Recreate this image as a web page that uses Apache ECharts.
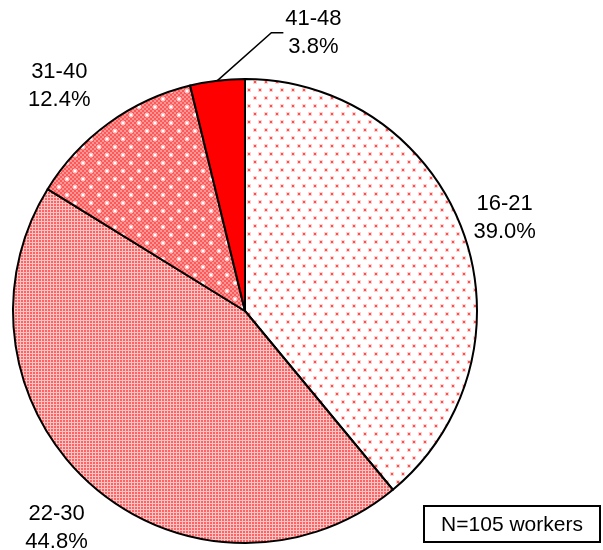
<!DOCTYPE html>
<html>
<head>
<meta charset="utf-8">
<title>Workers by age group</title>
<script src="https://cdn.jsdelivr.net/npm/echarts@6/dist/echarts.min.js"></script>
<style>
  html, body { margin: 0; padding: 0; background: #ffffff; }
  #chart { width: 603px; height: 550px; }
</style>
</head>
<body>
<div id="chart"></div>
<script>
// Age groups and their share of the surveyed workers (percent)
const categories = ['16-21', '22-30', '31-40', '41-48'];
const shares = [39.0, 44.8, 12.4, 3.8];
const noteText = 'N=105 workers';

const FONT = '"Liberation Sans", Arial, sans-serif';

// ---- fill patterns -------------------------------------------------------
function tile(w, h, draw) {
  const c = document.createElement('canvas');
  c.width = w; c.height = h;
  const g = c.getContext('2d');
  draw(g);
  return c;
}
function dot(g, x, y, core, halo) {
  g.fillStyle = halo;
  g.fillRect(x - 1, y - 1, 4, 4);
  g.fillStyle = core;
  g.fillRect(x, y, 2, 2);
}
// sparse red dots on white
const sparseDots = tile(11, 16, g => {
  g.fillStyle = '#ffffff'; g.fillRect(0, 0, 11, 16);
  dot(g, 1, 1, '#ff5050', '#ffd2d2');
  dot(g, 6, 9, '#ff5050', '#ffd2d2');
});
// dense pink grid
const denseGrid = tile(3, 3, g => {
  g.fillStyle = '#ffc4c4'; g.fillRect(0, 0, 3, 3);
  g.fillStyle = '#ff6262'; g.fillRect(0, 0, 2, 2);
});
// pink checker with white dots
const checkerDots = tile(16, 16, g => {
  for (let y = 0; y < 16; y += 2) {
    for (let x = 0; x < 16; x += 2) {
      g.fillStyle = ((x + y) / 2) % 2 === 0 ? '#ff5858' : '#ff9696';
      g.fillRect(x, y, 2, 2);
    }
  }
  dot(g, 2, 2, '#ffffff', '#ffc8c8');
  dot(g, 10, 10, '#ffffff', '#ffc8c8');
});
const fills = [
  { image: sparseDots, repeat: 'repeat' },
  { image: denseGrid, repeat: 'repeat' },
  { image: checkerDots, repeat: 'repeat' },
  '#ff0000'
];

// ---- pie geometry ------------------------------------------------------
const CX = 245, CY = 311, R = 232;
const total = shares.reduce((a, b) => a + b, 0);
function midAngle(i) {
  let before = 0;
  for (let k = 0; k < i; k++) before += shares[k];
  const frac = (before + shares[i] / 2) / total;
  return (90 - 360 * frac) * Math.PI / 180;
}
function polar(a, r) {
  return [CX + r * Math.cos(a), CY - r * Math.sin(a)];
}
// label distance from the centre and small angular nudge (degrees)
const labelDist = [276, 287, 292];
const labelNudge = [0, 0, 3.5];

const chart = echarts.init(document.getElementById('chart'), null, { renderer: 'canvas' });

chart.setOption({
  backgroundColor: '#ffffff',
  animation: false,
  series: [{
    type: 'pie',
    center: [CX, CY],
    radius: R,
    startAngle: 90,
    clockwise: true,
    avoidLabelOverlap: false,
    emphasis: { disabled: true },
    itemStyle: { borderColor: '#000000', borderWidth: 2 },
    label: {
      show: true,
      position: 'outside',
      formatter: p => p.name + '\n' + p.value.toFixed(1) + '%',
      fontFamily: FONT,
      fontSize: 22,
      lineHeight: 28,
      color: '#000000'
    },
    labelLine: { show: false },
    labelLayout: function (params) {
      const i = params.dataIndex;
      if (i < 3) {
        const a = midAngle(i) + labelNudge[i] * Math.PI / 180;
        const p = polar(a, labelDist[i]);
        return { x: p[0], y: p[1], align: 'center', verticalAlign: 'middle' };
      }
      const a = midAngle(i);
      const edge = polar(a, R);
      const elbow = [edge[0] + 54, edge[1] - 48];
      const end = [elbow[0] + 12, elbow[1]];
      return {
        x: end[0] + 30, y: end[1], align: 'center', verticalAlign: 'middle',
        labelLinePoints: [edge, elbow, end]
      };
    },
    data: categories.map((name, i) => ({
      name: name,
      value: shares[i],
      itemStyle: { color: fills[i] },
      labelLine: i === 3
        ? { show: true, length: 10, length2: 10, lineStyle: { color: '#000000', width: 1.5 } }
        : { show: false }
    }))
  }],
  graphic: [{
    type: 'group',
    right: 2,
    bottom: 7,
    children: [
      {
        type: 'rect',
        shape: { x: 0, y: 0, width: 176, height: 36 },
        style: { fill: '#ffffff', stroke: '#000000', lineWidth: 2 }
      },
      {
        type: 'text',
        x: 88, y: 19,
        style: {
          text: noteText, font: '21px ' + FONT, fill: '#000000',
          align: 'center', verticalAlign: 'middle'
        }
      }
    ]
  }]
});
</script>
</body>
</html>
